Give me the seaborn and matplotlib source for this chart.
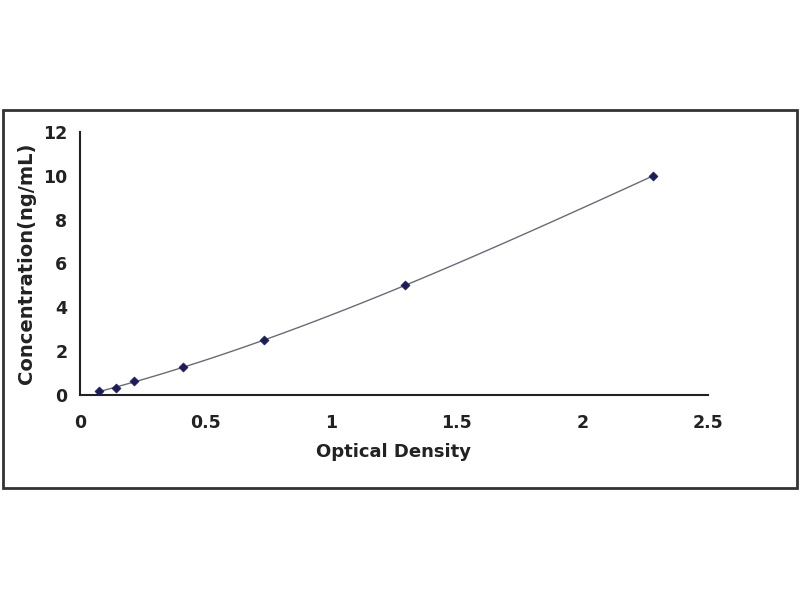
import matplotlib
matplotlib.use("Agg")
import matplotlib.pyplot as plt
import seaborn as sns
import pandas as pd
from matplotlib.patches import Rectangle

od = [0.076, 0.142, 0.216, 0.409, 0.734, 1.294, 2.282]
conc = [0.156, 0.312, 0.625, 1.25, 2.5, 5.0, 10.0]
xticks = [0, 0.5, 1, 1.5, 2, 2.5]
xticklabels = ["0", "0.5", "1", "1.5", "2", "2.5"]
yticks = [0, 2, 4, 6, 8, 10, 12]

df = pd.DataFrame({"od": od, "conc": conc})

sns.set_theme(style="white")
plt.rcParams['font.family'] = ['DejaVu Sans']

fig = plt.figure(figsize=(8, 6), dpi=100)
ax = fig.add_axes([0.1, 0.342, 0.785, 0.438])

sns.regplot(data=df, x="od", y="conc", order=3, ci=None, scatter=False,
            truncate=True, ax=ax, line_kws=dict(color="#6a6a7a", lw=1.0))
sns.scatterplot(data=df, x="od", y="conc", marker="D", s=22, color="#1c1c5c",
                edgecolor="#1c1c5c", ax=ax, zorder=5)

ax.set_xlim(0, 2.5)
ax.set_ylim(0, 12)
ax.set_xticks(xticks)
ax.set_xticklabels(xticklabels)
ax.set_yticks(yticks)
ax.tick_params(axis="both", direction="in", length=4, width=1, colors="#222222",
               labelsize=12.5, labelcolor="#222222")
ax.tick_params(axis="x", pad=14)
ax.tick_params(axis="y", pad=9)
for lab in ax.get_xticklabels() + ax.get_yticklabels():
    lab.set_fontweight("bold")
ax.set_xlabel("Optical Density", fontsize=13, fontweight="bold", color="#222222", labelpad=8)
ax.set_ylabel("Concentration(ng/mL)", fontsize=14, fontweight="bold", color="#222222", labelpad=5)

for s in ["top", "right"]:
    ax.spines[s].set_visible(False)
for s in ["left", "bottom"]:
    ax.spines[s].set_color("#222222")
    ax.spines[s].set_linewidth(1.5)

fig.patches.append(Rectangle((3/800, 1-488/600), 794/800, 378/600, transform=fig.transFigure,
                             fill=False, edgecolor="#333333", lw=2))

fig.savefig("out.png", dpi=100)
